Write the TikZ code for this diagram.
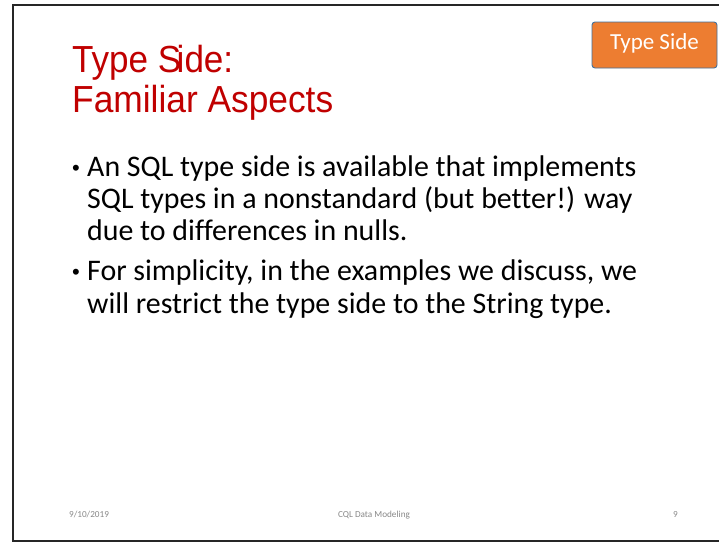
\documentclass[tikz,border=0pt]{standalone}
\usepackage{graphicx}
\usepackage{fontspec}
\setmainfont{Carlito}[Ligatures=NoCommon]
\newfontfamily\titlefont{Liberation Sans}
\definecolor{titlered}{HTML}{C00000}
\definecolor{tagorange}{HTML}{ED7D31}
\definecolor{tagedge}{HTML}{41719C}
\definecolor{footgray}{HTML}{898989}
\tikzset{
  titleline/.style={anchor=base west, inner sep=0pt, text=titlered,
    font=\titlefont\fontsize{37.7}{39}\selectfont},
  bodyline/.style={anchor=base west, inner sep=0pt,
    font=\fontsize{29.9}{33}\selectfont},
  bulletmark/.style={anchor=base, inner sep=0pt,
    font=\titlefont\fontsize{22}{24}\selectfont},
  tagbox/.style={draw=tagedge, fill=tagorange, rounded corners=3pt,
    line width=0.9pt, minimum width=125pt, minimum height=46pt, inner sep=0pt},
  taglabel/.style={anchor=base, inner sep=0pt, text=white,
    font=\fontsize{23}{26}\selectfont},
  footer/.style={inner sep=0pt, text=footgray, font=\fontsize{9.2}{11}\selectfont}
}
\begin{document}
\begin{tikzpicture}[x=1pt, y=-1pt]
  \useasboundingbox (0,0) rectangle (719,546);
  \clip (0,0) rectangle (719,546);
  \fill[white] (0,0) rectangle (719,546);

  % slide frame
  \draw[line width=1.3pt, black!85] (13,5) rectangle (727,541);

  % title
  \node[titleline] (title1) at (72,72) {\scalebox{0.93}[1]{Type S\kern-5pt ide:}};
  \node[titleline] (title2) at (72,112) {\scalebox{0.937}[1]{Familiar Aspects}};

  % section tag
  \node[tagbox] (tag) at (654.5,45) {};
  \node[taglabel] (tagtext) at (654.5,49) {Type Side};

  % bullets
  \node[bulletmark] (b1) at (76,175) {•};
  \node[bodyline] (l1) at (87,176) {An SQL type side is available that implements};
  \node[bodyline] (l2) at (87,208) {SQL types in a nonstandard (but better!) way};
  \node[bodyline] (l3) at (87,240) {due to differences in nulls.};
  \node[bulletmark] (b2) at (76,279) {•};
  \node[bodyline] (l4) at (87,280) {For simplicity, in the examples we discuss, we};
  \node[bodyline] (l5) at (87,313) {will restrict the type side to the String type.};

  % footer
  \node[footer, anchor=base west] (date) at (69,517) {9/10/2019};
  \node[footer, anchor=base] (foottitle) at (374,517) {CQL Data Modeling};
  \node[footer, anchor=base east] (page) at (678,517) {9};
\end{tikzpicture}
\end{document}
